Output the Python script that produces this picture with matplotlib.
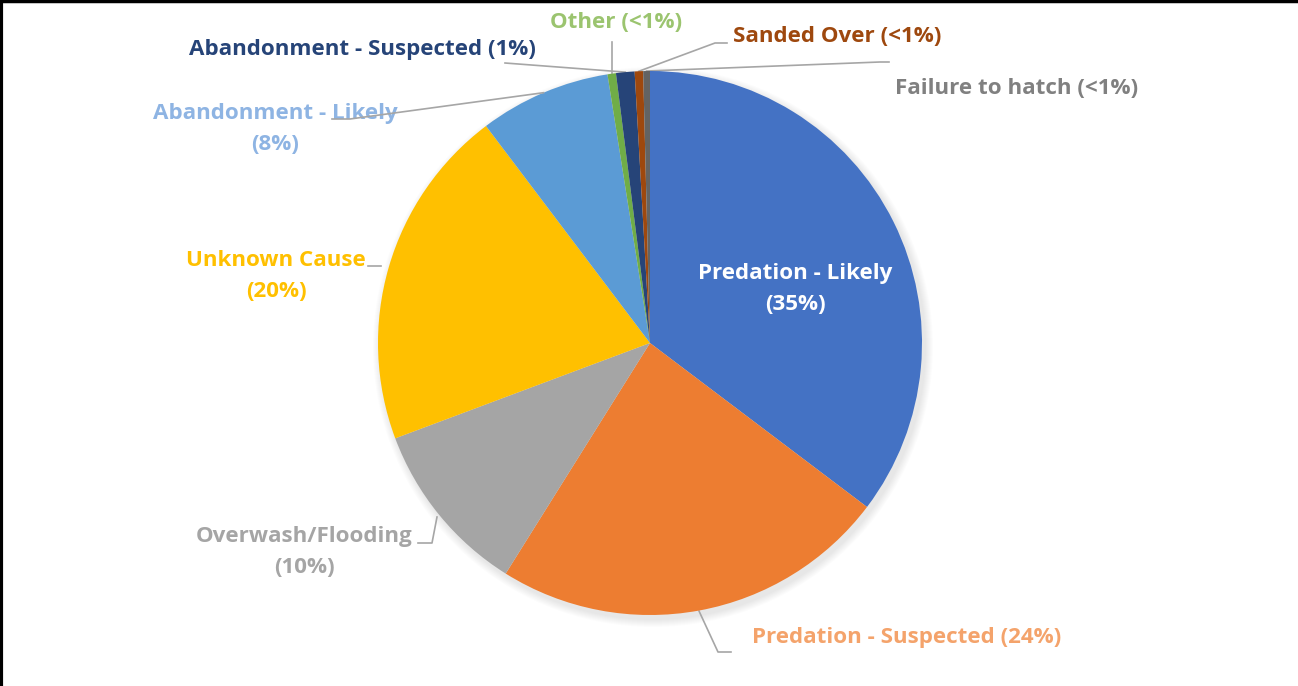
import numpy as np
import matplotlib.pyplot as plt
from matplotlib.lines import Line2D

# slices clockwise from 12 o'clock
labels = ['Predation - Likely', 'Predation - Suspected', 'Overwash/Flooding',
          'Unknown Cause', 'Abandonment - Likely', 'Other',
          'Abandonment - Suspected', 'Sanded Over', 'Failure to hatch']
pct_text = ['35%', '24%', '10%', '20%', '8%', '<1%', '1%', '<1%', '<1%']
values = [35.3, 23.6, 10.4, 20.4, 7.8, 0.5, 1.1, 0.5, 0.4]
colors = ['#4472C4', '#ED7D31', '#A5A5A5', '#FFC000', '#5B9BD5',
          '#70AD47', '#264478', '#9E480E', '#636363']
text_colors = ['white', '#F4A36B', '#A5A5A5', '#FFC000', '#8EB4E3',
               '#9BC46F', '#264478', '#9E480E', '#808080']

W, H = 1298, 686
cx, cy, R = 650, 343, 272

plt.rcParams['font.family'] = ['Open Sans', 'DejaVu Sans']
fig = plt.figure(figsize=(W / 100, H / 100), dpi=100)
ax = fig.add_axes([0, 0, 1, 1])

# soft shadow behind the pie
for k in range(8):
    ax.add_patch(plt.Circle((cx + 3, cy + 4), R + 8 - k, color='black',
                            alpha=0.012, lw=0, zorder=0))

# y axis is inverted below, so startangle=-90 points up and
# counterclock=True runs clockwise on screen
wedges, _ = ax.pie(values, colors=colors, startangle=-90, counterclock=True,
                   radius=R, center=(cx, cy), frame=True,
                   wedgeprops=dict(linewidth=0))
for w in wedges:
    w.set_zorder(2)
ax.set_xlim(0, W)
ax.set_ylim(H, 0)
ax.set_aspect('equal')
ax.axis('off')


def mid_pt(i, r=R):
    # point on the rim at the slice middle (screen coords)
    w = wedges[i]
    a = np.deg2rad((w.theta1 + w.theta2) / 2)
    return cx + r * np.cos(a), cy + r * np.sin(a)


fs = 16.1
ls = 1.62
lc = '#A6A6A6'
kw = dict(fontsize=fs, fontweight='bold')

# Predation - Likely (inside)
ax.text(795, 289, f'{labels[0]}\n({pct_text[0]})', color=text_colors[0],
        ha='center', va='center', linespacing=ls, zorder=4, **kw)

# Predation - Suspected
ax.plot([699, 718, 731], [611, 652, 652], color=lc, lw=1.2, zorder=1)
ax.text(752, 638, f'{labels[1]} ({pct_text[1]})', color=text_colors[1],
        ha='left', va='center', **kw)

# Overwash/Flooding
ax.plot([437, 432, 418], [517, 543, 543], color=lc, lw=1.2, zorder=1)
ax.text(304, 552, f'{labels[2]}\n({pct_text[2]})', color=text_colors[2],
        ha='center', va='center', linespacing=ls, **kw)

# Unknown Cause
ax.plot([368, 381], [266, 266], color=lc, lw=1.2, zorder=1)
ax.text(276, 276, f'{labels[3]}\n({pct_text[3]})', color=text_colors[3],
        ha='center', va='center', linespacing=ls, **kw)

# Abandonment - Likely
ex, ey = mid_pt(4)
ax.plot([332, 350, ex], [119, 119, ey], color=lc, lw=1.2, zorder=3)
ax.text(275, 129, f'{labels[4]}\n({pct_text[4]})', color=text_colors[4],
        ha='center', va='center', linespacing=ls, zorder=2, **kw)

# Abandonment - Suspected
ex, ey = mid_pt(6)
ax.plot([505, ex], [63, ey], color=lc, lw=1.2, zorder=1)
ax.text(362, 49, f'{labels[6]} ({pct_text[6]})', color=text_colors[6],
        ha='center', va='center', **kw)

# Other
ex, ey = mid_pt(5)
ax.plot([ex, ex], [42, ey], color=lc, lw=1.2, zorder=1)
ax.text(616, 22, f'{labels[5]} ({pct_text[5]})', color=text_colors[5],
        ha='center', va='center', **kw)

# Sanded Over
ex, ey = mid_pt(7)
ax.plot([ex, 715, 727], [ey, 43, 43], color=lc, lw=1.2, zorder=1)
ax.text(733, 36, f'{labels[7]} ({pct_text[7]})', color=text_colors[7],
        ha='left', va='center', **kw)

# Failure to hatch
ex, ey = mid_pt(8)
ax.plot([ex, 880, 889], [ey, 62, 62], color=lc, lw=1.2, zorder=1)
ax.text(895, 88, f'{labels[8]} ({pct_text[8]})', color=text_colors[8],
        ha='left', va='center', **kw)

# thin black frame on top and left edges
fig.add_artist(Line2D([0, 1], [0.999, 0.999], color='black', lw=2.5,
                      transform=fig.transFigure))
fig.add_artist(Line2D([0.001, 0.001], [0, 1], color='black', lw=3,
                      transform=fig.transFigure))

fig.savefig('out.png', dpi=100)
